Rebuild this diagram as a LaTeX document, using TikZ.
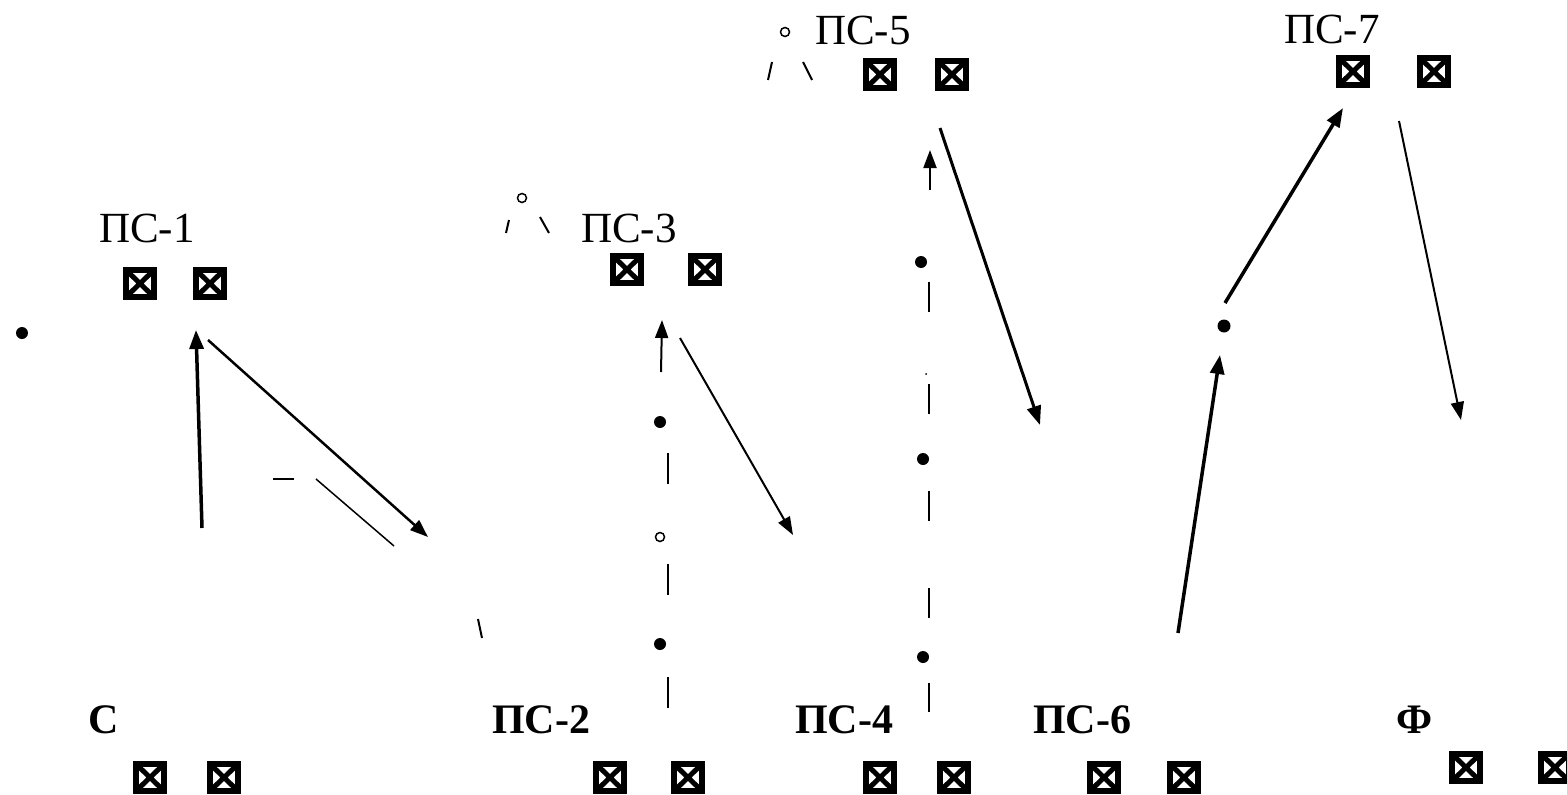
\documentclass[tikz,border=0pt]{standalone}
\usepackage{fontspec}
\setmainfont{Liberation Serif}
\usetikzlibrary{arrows.meta}
\tikzset{
  xbox/.style={rectangle, draw=black, line width=6pt, minimum width=28pt, minimum height=27pt,
    inner sep=0pt, outer sep=0pt, anchor=north west,
    path picture={\draw[line width=5pt] (path picture bounding box.north west) -- (path picture bounding box.south east)
                   (path picture bounding box.north east) -- (path picture bounding box.south west);}},
  lbl/.style={anchor=base west, inner sep=0pt, font=\fontsize{43}{50}\selectfont},
  blbl/.style={lbl, font=\fontsize{42}{50}\selectfont\bfseries},
  thickarr/.style={line width=3.5pt, -{Triangle[length=19pt,width=14pt]}},
  thinarr/.style={line width=2pt, -{Triangle[length=18pt,width=13pt]}},
  tick/.style={line width=2pt},
  fdot/.style={circle, fill=black, inner sep=0pt, minimum size=12pt},
  odot/.style={circle, draw=black, line width=1.5pt, inner sep=0pt, minimum size=9pt},
}
\begin{document}
\begin{tikzpicture}[x=1pt,y=-1pt]
\useasboundingbox (0,0) rectangle (1567,795);
\clip (0,0) rectangle (1567,795);
% labels
\node[lbl] (ps1) at (99,242) {ПС-1};
\node[lbl] (ps3) at (581,242) {ПС-3};
\node[lbl] (ps5) at (815,45) {ПС-5};
\node[lbl] (ps7) at (1284,43) {ПС-7};
\node[blbl] (c) at (88,733) {С};
\node[blbl] (ps2) at (492,733) {ПС-2};
\node[blbl] (ps4) at (795,733) {ПС-4};
\node[blbl] (ps6) at (1033,733) {ПС-6};
\node[blbl] (f) at (1396,733) {Ф};
% boxes
\node[xbox] (b1a) at (126,270) {};
\node[xbox] (b1b) at (196,270) {};
\node[xbox] (b3a) at (613,256) {};
\node[xbox] (b3b) at (691,256) {};
\node[xbox] (b5a) at (866,61) {};
\node[xbox] (b5b) at (938,61) {};
\node[xbox] (b7a) at (1339,58) {};
\node[xbox] (b7b) at (1420,58) {};
\node[xbox] (bca) at (136,764) {};
\node[xbox] (bcb) at (210,764) {};
\node[xbox] (b2a) at (596,764) {};
\node[xbox] (b2b) at (674,764) {};
\node[xbox] (b4a) at (866,764) {};
\node[xbox] (b4b) at (940,764) {};
\node[xbox] (b6a) at (1090,764) {};
\node[xbox] (b6b) at (1170,764) {};
\node[xbox] (bfa) at (1452,754) {};
\node[xbox] (bfb) at (1541,754) {};
% dots
\node[fdot] (d0) at (22,333) {};
\node[fdot] (d3a) at (660,422) {};
\node[odot] (d3b) at (660,537) {};
\node[fdot] (d3c) at (660,644) {};
\node[odot] (o3) at (522,198) {};
\node[odot] (o5) at (785,32) {};
\node[fdot] (d5a) at (921,262) {};
\node[fdot, minimum size=2pt] (d5t) at (926,374) {};
\node[fdot] (d5b) at (923,459) {};
\node[fdot] (d5c) at (923,657) {};
\node[fdot, minimum size=13pt] (d7) at (1224,326) {};
% coordinates for connectors
\coordinate (a1s) at (202,528); \coordinate (a1e) at (196,330);
\coordinate (a2s) at (208,340); \coordinate (a2e) at (428,537);
\coordinate (a3s) at (661,372); \coordinate (a3e) at (662,320);
\coordinate (a4s) at (680,338); \coordinate (a4e) at (793,535);
\coordinate (a5s) at (930,190); \coordinate (a5e) at (930,150);
\coordinate (a6s) at (940,128); \coordinate (a6e) at (1040,425);
\coordinate (a7s) at (1178,633); \coordinate (a7e) at (1220,355);
\coordinate (a8s) at (1225,303); \coordinate (a8e) at (1343,108);
\coordinate (a9s) at (1399,121); \coordinate (a9e) at (1461,420);
\draw[thickarr] (a1s) -- (a1e);
\draw[thinarr, line width=2.5pt] (a2s) -- (a2e);
\draw[thinarr] (a3s) -- (a3e);
\draw[thinarr] (a4s) -- (a4e);
\draw[thinarr] (a5s) -- (a5e);
\draw[thickarr, line width=3pt] (a6s) -- (a6e);
\draw[thickarr] (a7s) -- (a7e);
\draw[thickarr] (a8s) -- (a8e);
\draw[thinarr] (a9s) -- (a9e);
% small strokes
\coordinate (s1a) at (273,479); \coordinate (s1b) at (294,479);
\coordinate (s2a) at (316,479); \coordinate (s2b) at (394,546);
\coordinate (s3a) at (478,619); \coordinate (s3b) at (482,638);
\coordinate (s4a) at (506,233); \coordinate (s4b) at (509,220);
\coordinate (s5a) at (540,217); \coordinate (s5b) at (549,233);
\coordinate (s6a) at (768,80); \coordinate (s6b) at (772,62);
\coordinate (s7a) at (803,62); \coordinate (s7b) at (812,80);
\draw[tick] (s1a) -- (s1b);
\draw[tick, line width=1.5pt] (s2a) -- (s2b);
\draw[tick] (s3a) -- (s3b);
\draw[tick] (s4a) -- (s4b);
\draw[tick] (s5a) -- (s5b);
\draw[tick] (s6a) -- (s6b);
\draw[tick] (s7a) -- (s7b);
% vertical dashes
\foreach \i/\ya/\yb in {1/453/484, 2/564/595, 3/677/708} {
  \coordinate (v3t\i) at (668,\ya); \coordinate (v3b\i) at (668,\yb);
  \draw[tick] (v3t\i) -- (v3b\i);
}
\foreach \i/\ya/\yb in {1/282/312, 2/384/414, 3/491/521, 4/588/618, 5/683/712} {
  \coordinate (v5t\i) at (929,\ya); \coordinate (v5b\i) at (929,\yb);
  \draw[tick] (v5t\i) -- (v5b\i);
}
\end{tikzpicture}
\end{document}
